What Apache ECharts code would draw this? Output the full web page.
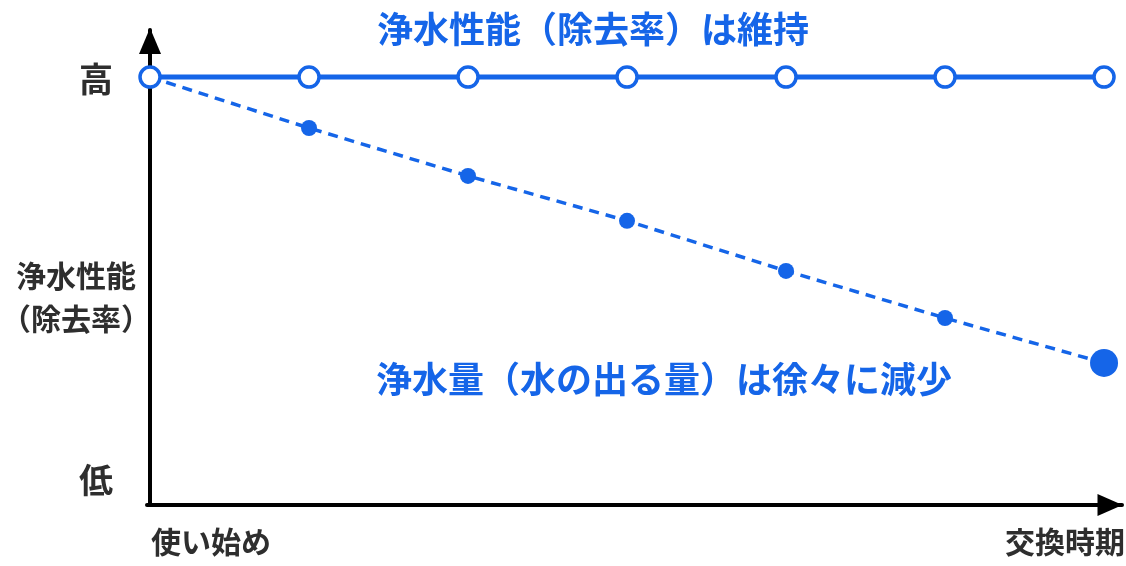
<!DOCTYPE html>
<html><head><meta charset="utf-8">
<script src="https://cdn.jsdelivr.net/npm/echarts@6/dist/echarts.min.js"></script>
<style>html,body{margin:0;padding:0;background:#fff}#c{width:1126px;height:566px}</style>
</head><body><div id="c"></div>
<script>
const steps = [0, 1, 2, 3, 4, 5, 6];
const performance = [100, 100, 100, 100, 100, 100, 100];
const flow = [100, 88.1, 76.9, 66.4, 54.7, 43.7, 33.2];
const yTickValues = [5.8, 99.5];
const yTickLabels = ['低', '高'];
const xEndLabels = ['使い始め', '交換時期'];
const titleTop = '浄水性能（除去率）は維持';
const titleMid = '浄水量（水の出る量）は徐々に減少';
const yName = '浄水性能\n（除去率）';

const BLUE = '#1565e8', DARK = '#2e2e2e';
const FONT = '"Noto Sans CJK JP", "Noto Sans", sans-serif';
const chart = echarts.init(document.getElementById('c'));
chart.setOption({
  animation: false,
  textStyle: { fontFamily: FONT },
  title: [
    { text: titleTop, left: 588, top: 6, textAlign: 'center',
      textStyle: { color: BLUE, fontSize: 36, fontWeight: 'bold', fontFamily: FONT } },
    { text: titleMid, left: 371, top: 356,
      textStyle: { color: BLUE, fontSize: 36, fontWeight: 'bold', fontFamily: FONT } }
  ],
  grid: { left: 147, right: 4, top: 30, bottom: 61 },
  xAxis: {
    type: 'value', min: -0.019, max: 6.113,
    splitLine: { show: false }, axisTick: { show: false }, axisLabel: { show: false },
    axisLine: { show: true, onZero: false, lineStyle: { color: '#000', width: 4 },
      symbol: ['none', 'triangle'], symbolSize: [22, 25], symbolOffset: [0, -12] }
  },
  yAxis: {
    type: 'value', min: 0, max: 111,
    splitLine: { show: false }, axisTick: { show: false },
    axisLine: { show: true, lineStyle: { color: '#000', width: 4 },
      symbol: ['none', 'triangle'], symbolSize: [22, 26], symbolOffset: [0, -11] },
    axisLabel: {
      customValues: yTickValues, margin: 34,
      formatter: v => yTickLabels[yTickValues.indexOf(v)],
      color: DARK, fontSize: 34, fontWeight: 'bold', fontFamily: FONT
    }
  },
  graphic: [
    { type: 'text', x: 76, y: 254,
      style: { text: yName, fill: DARK, fontSize: 30, fontWeight: 'bold', fontFamily: FONT, lineHeight: 43, align: 'center' } },
    { type: 'text', left: 151, top: 527,
      style: { text: xEndLabels[0], fill: DARK, fontSize: 30, fontWeight: 'bold', fontFamily: FONT } },
    { type: 'text', right: 1, top: 527,
      style: { text: xEndLabels[1], fill: DARK, fontSize: 30, fontWeight: 'bold', fontFamily: FONT } }
  ],
  series: [
    { name: '浄水量', type: 'line', z: 2,
      data: steps.map((s, i) => [s, flow[i]]),
      lineStyle: { color: BLUE, width: 3.5, type: [10, 7] },
      itemStyle: { color: BLUE },
      symbol: 'circle',
      symbolSize: (v, p) => p.dataIndex === 0 ? 0 : (p.dataIndex === steps.length - 1 ? 28 : 16)
    },
    { name: '浄水性能', type: 'line', z: 3,
      data: steps.map((s, i) => [s, performance[i]]),
      lineStyle: { color: BLUE, width: 5 },
      symbol: 'circle', symbolSize: 20,
      itemStyle: { color: '#fff', borderColor: BLUE, borderWidth: 3.5 }
    }
  ]
});
</script></body></html>
